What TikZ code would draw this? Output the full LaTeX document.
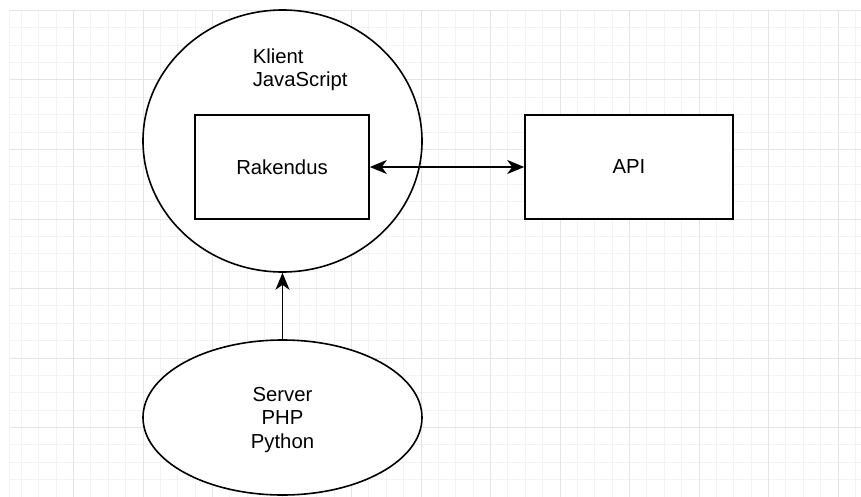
\documentclass[tikz,border=0pt]{standalone}
\usepackage{fontspec}
\setmainfont{Liberation Sans}
\usetikzlibrary{arrows.meta}
\usetikzlibrary{shapes.geometric}
\usepackage{xcolor}
\definecolor{gridminor}{HTML}{F3F3F3}
\definecolor{gridmajor}{HTML}{E4E4E4}

\begin{document}
\begin{tikzpicture}[x=1pt, y=-1pt, line width=1.6pt,
  >={Stealth[length=17pt,width=14pt,inset=5pt]},
  txt/.style={font=\fontsize{20.3}{23.5}\selectfont},
  box/.style={draw, fill=white, rectangle, minimum width=#1, minimum height=104, inner sep=0, txt},
  blob/.style={draw, fill=white, ellipse, inner sep=0, txt}]
\useasboundingbox (0,0) rectangle (861,497);
\fill[white] (0,0) rectangle (861,497);
% grid
\foreach \i in {-3,...,45}
 \draw[gridminor, line width=1pt] (73.5+17.375*\i,10) --++(0,487);
\foreach \j in {0,...,28}
 \draw[gridminor, line width=1pt] (9,10.5+17.375*\j) --++(852,0);
\foreach \i in {0,...,11}
 \draw[gridmajor, line width=1pt] (73.5+69.5*\i,10) --++(0,487);
\foreach \j in {0,...,7}
 \draw[gridmajor, line width=1pt] (9,10.5+69.5*\j) --++(852,0);
\draw[gridminor, line width=1pt] (9,10) --++(0,487);
% shapes
\node[blob, minimum width=279, minimum height=262] (klient) at (282.5,141) {};
\node[txt, align=left, anchor=north west, inner sep=0] (klienttxt) at (252,47.5) {Klient\\JavaScript};
\node[box=174] (rakendus) at (282,167) {Rakendus};
\node[box=208] (api) at (629,167) {API};
\node[blob, minimum width=279, minimum height=155, align=center, text depth=0] (server) at (282.5,417.5) {Server\\PHP\\Python};
% connectors
\draw[<->] (rakendus) -- (api);
\draw[->] (server) -- (klient);
\end{tikzpicture}
\end{document}
